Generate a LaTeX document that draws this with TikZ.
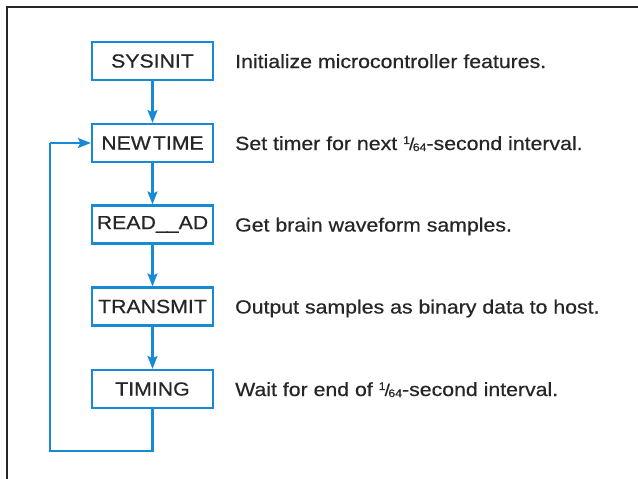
\documentclass[tikz,border=0pt]{standalone}
\usepackage{fontspec}
\setmainfont[FakeStretch=1.12,FakeBold=0.5]{Liberation Sans}
\usetikzlibrary{arrows.meta}
\definecolor{flowblue}{RGB}{22,138,212}
\newcommand{\sixtyfourth}{\mbox{\raisebox{0.6ex}{\fontsize{11}{11}\selectfont 1}\kern-0.05em{\fontsize{17}{17}\selectfont /}\kern-0.08em\raisebox{-0.1ex}{\fontsize{11}{11}\selectfont 64}}}
\begin{document}
\begin{tikzpicture}[x=1pt,y=-1pt,
  stepbox/.style={draw=flowblue,line width=2.2pt,minimum width=121pt,minimum height=38pt,inner sep=0pt,font=\fontsize{19}{20}\selectfont,text=black!85},
  desc/.style={anchor=base west,inner sep=0pt,font=\fontsize{19}{20}\selectfont,text=black!85},
  flow/.style={draw=flowblue,line width=2.2pt,-{Stealth[length=13pt,width=10pt,inset=2.5pt]}},
  loopline/.style={draw=flowblue,line width=2.2pt}]
\useasboundingbox (0,0) rectangle (638,479);
\fill[white] (0,0) rectangle (638,479);
\draw[line width=2pt,black!85] (7,479) -- (7,7) -- (638,7);
\node[stepbox] (sys) at (152.5,61) {SYSINIT};
\node[stepbox] (new) at (152.5,143) {NEW\kern0.1em TIME};
\node[stepbox] (read) at (152.5,224.5) {READ\_\kern-0.05em\_AD};
\node[stepbox] (tx) at (152.5,306.5) {TRANSMIT};
\node[stepbox] (tim) at (152.5,389) {TIMING};
\node[desc] (dsys) at (235,68) {Initialize microcontroller features.};
\node[desc] (dnew) at (235,150) {Set timer for next \sixtyfourth-second interval.};
\node[desc] (dread) at (235,231.5) {Get brain waveform samples.};
\node[desc] (dtx) at (235,313.5) {Output samples as binary data to host.};
\node[desc] (dtim) at (235,396) {Wait for end of \sixtyfourth-second interval.};
\coordinate (c1) at (152.5,451);
\coordinate (c2) at (50,451);
\coordinate (c3) at (50,143);
\draw[flow] (sys) -- (new);
\draw[flow] (new) -- (read);
\draw[flow] (read) -- (tx);
\draw[flow] (tx) -- (tim);
\draw[loopline] (tim.south) -- (c1) -- (c2) -- (c3);
\draw[flow] (c3) -- (new.west);
\end{tikzpicture}
\end{document}
